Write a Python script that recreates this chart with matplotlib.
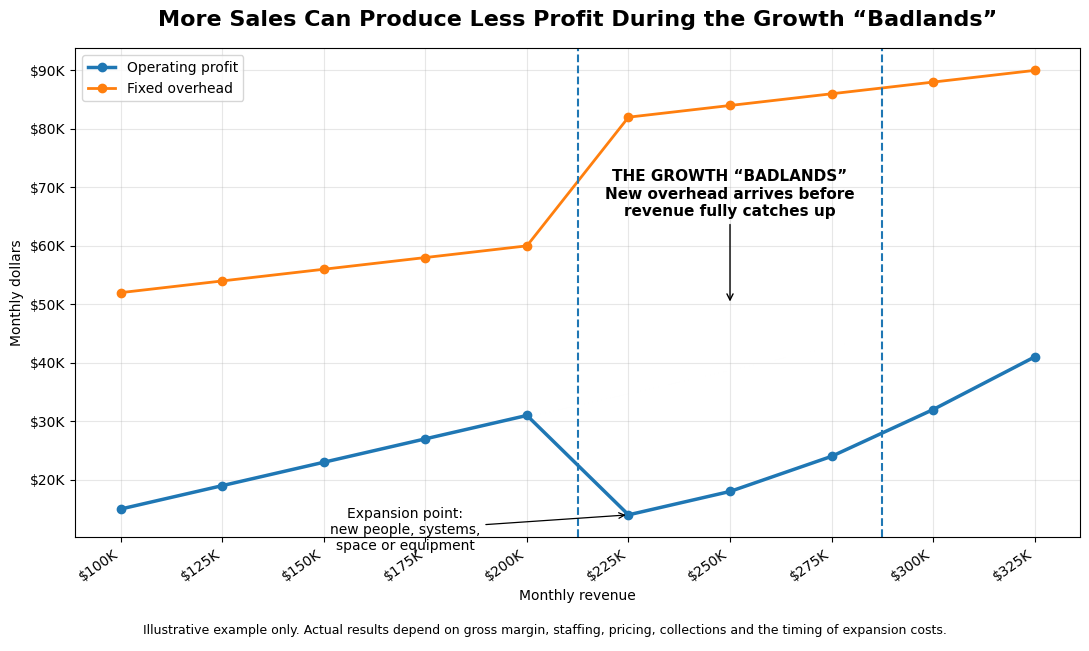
import matplotlib
matplotlib.use("Agg")
import matplotlib.pyplot as plt
from matplotlib.ticker import FuncFormatter

# revenue levels (dollars) and the two series
revenue = [100000, 125000, 150000, 175000, 200000, 225000, 250000, 275000, 300000, 325000]
operating_profit = [15000, 19000, 23000, 27000, 31000, 14000, 18000, 24000, 32000, 41000]
fixed_overhead = [52000, 54000, 56000, 58000, 60000, 82000, 84000, 86000, 88000, 90000]
badlands_edges = [212500, 287500]

fig, ax = plt.subplots(figsize=(10.89, 6.51), dpi=100)
fig.subplots_adjust(left=0.069, right=0.992, top=0.926, bottom=0.175)

ax.plot(revenue, operating_profit, marker='o', linewidth=2.5, markersize=6,
        color='#1f77b4', label='Operating profit')
ax.plot(revenue, fixed_overhead, marker='o', linewidth=2.0, markersize=6,
        color='#ff7f0e', label='Fixed overhead')

for x in badlands_edges:
    ax.axvline(x, color='#1f77b4', linestyle='--', linewidth=1.5)

ax.annotate('THE GROWTH \u201cBADLANDS\u201d\nNew overhead arrives before\nrevenue fully catches up',
            xy=(250000, 50000), xytext=(250000, 64600),
            ha='center', va='bottom', fontsize=11, fontweight='bold',
            arrowprops=dict(arrowstyle='->', color='black', lw=1.0))

ax.annotate('Expansion point:\nnew people, systems,\nspace or equipment',
            xy=(225000, 14000), xytext=(170000, 11400),
            ha='center', va='center', fontsize=10,
            arrowprops=dict(arrowstyle='->', color='black', lw=0.9))

ax.set_xticks(revenue)
ax.xaxis.set_major_formatter(FuncFormatter(lambda v, p: f'${v/1000:.0f}K'))
ax.yaxis.set_major_formatter(FuncFormatter(lambda v, p: f'${v/1000:.0f}K'))
plt.setp(ax.get_xticklabels(), rotation=35, ha='right', rotation_mode='default')

ax.grid(True, alpha=0.3)
ax.set_xlabel('Monthly revenue')
ax.set_ylabel('Monthly dollars')
ax.set_title('More Sales Can Produce Less Profit During the Growth \u201cBadlands\u201d',
             fontsize=16, fontweight='bold', pad=16)
ax.legend(loc='upper left')

fig.text(0.5, 0.022, 'Illustrative example only. Actual results depend on gross margin, staffing, '
         'pricing, collections and the timing of expansion costs.',
         ha='center', va='bottom', fontsize=9)

fig.savefig('out.png', dpi=100)
